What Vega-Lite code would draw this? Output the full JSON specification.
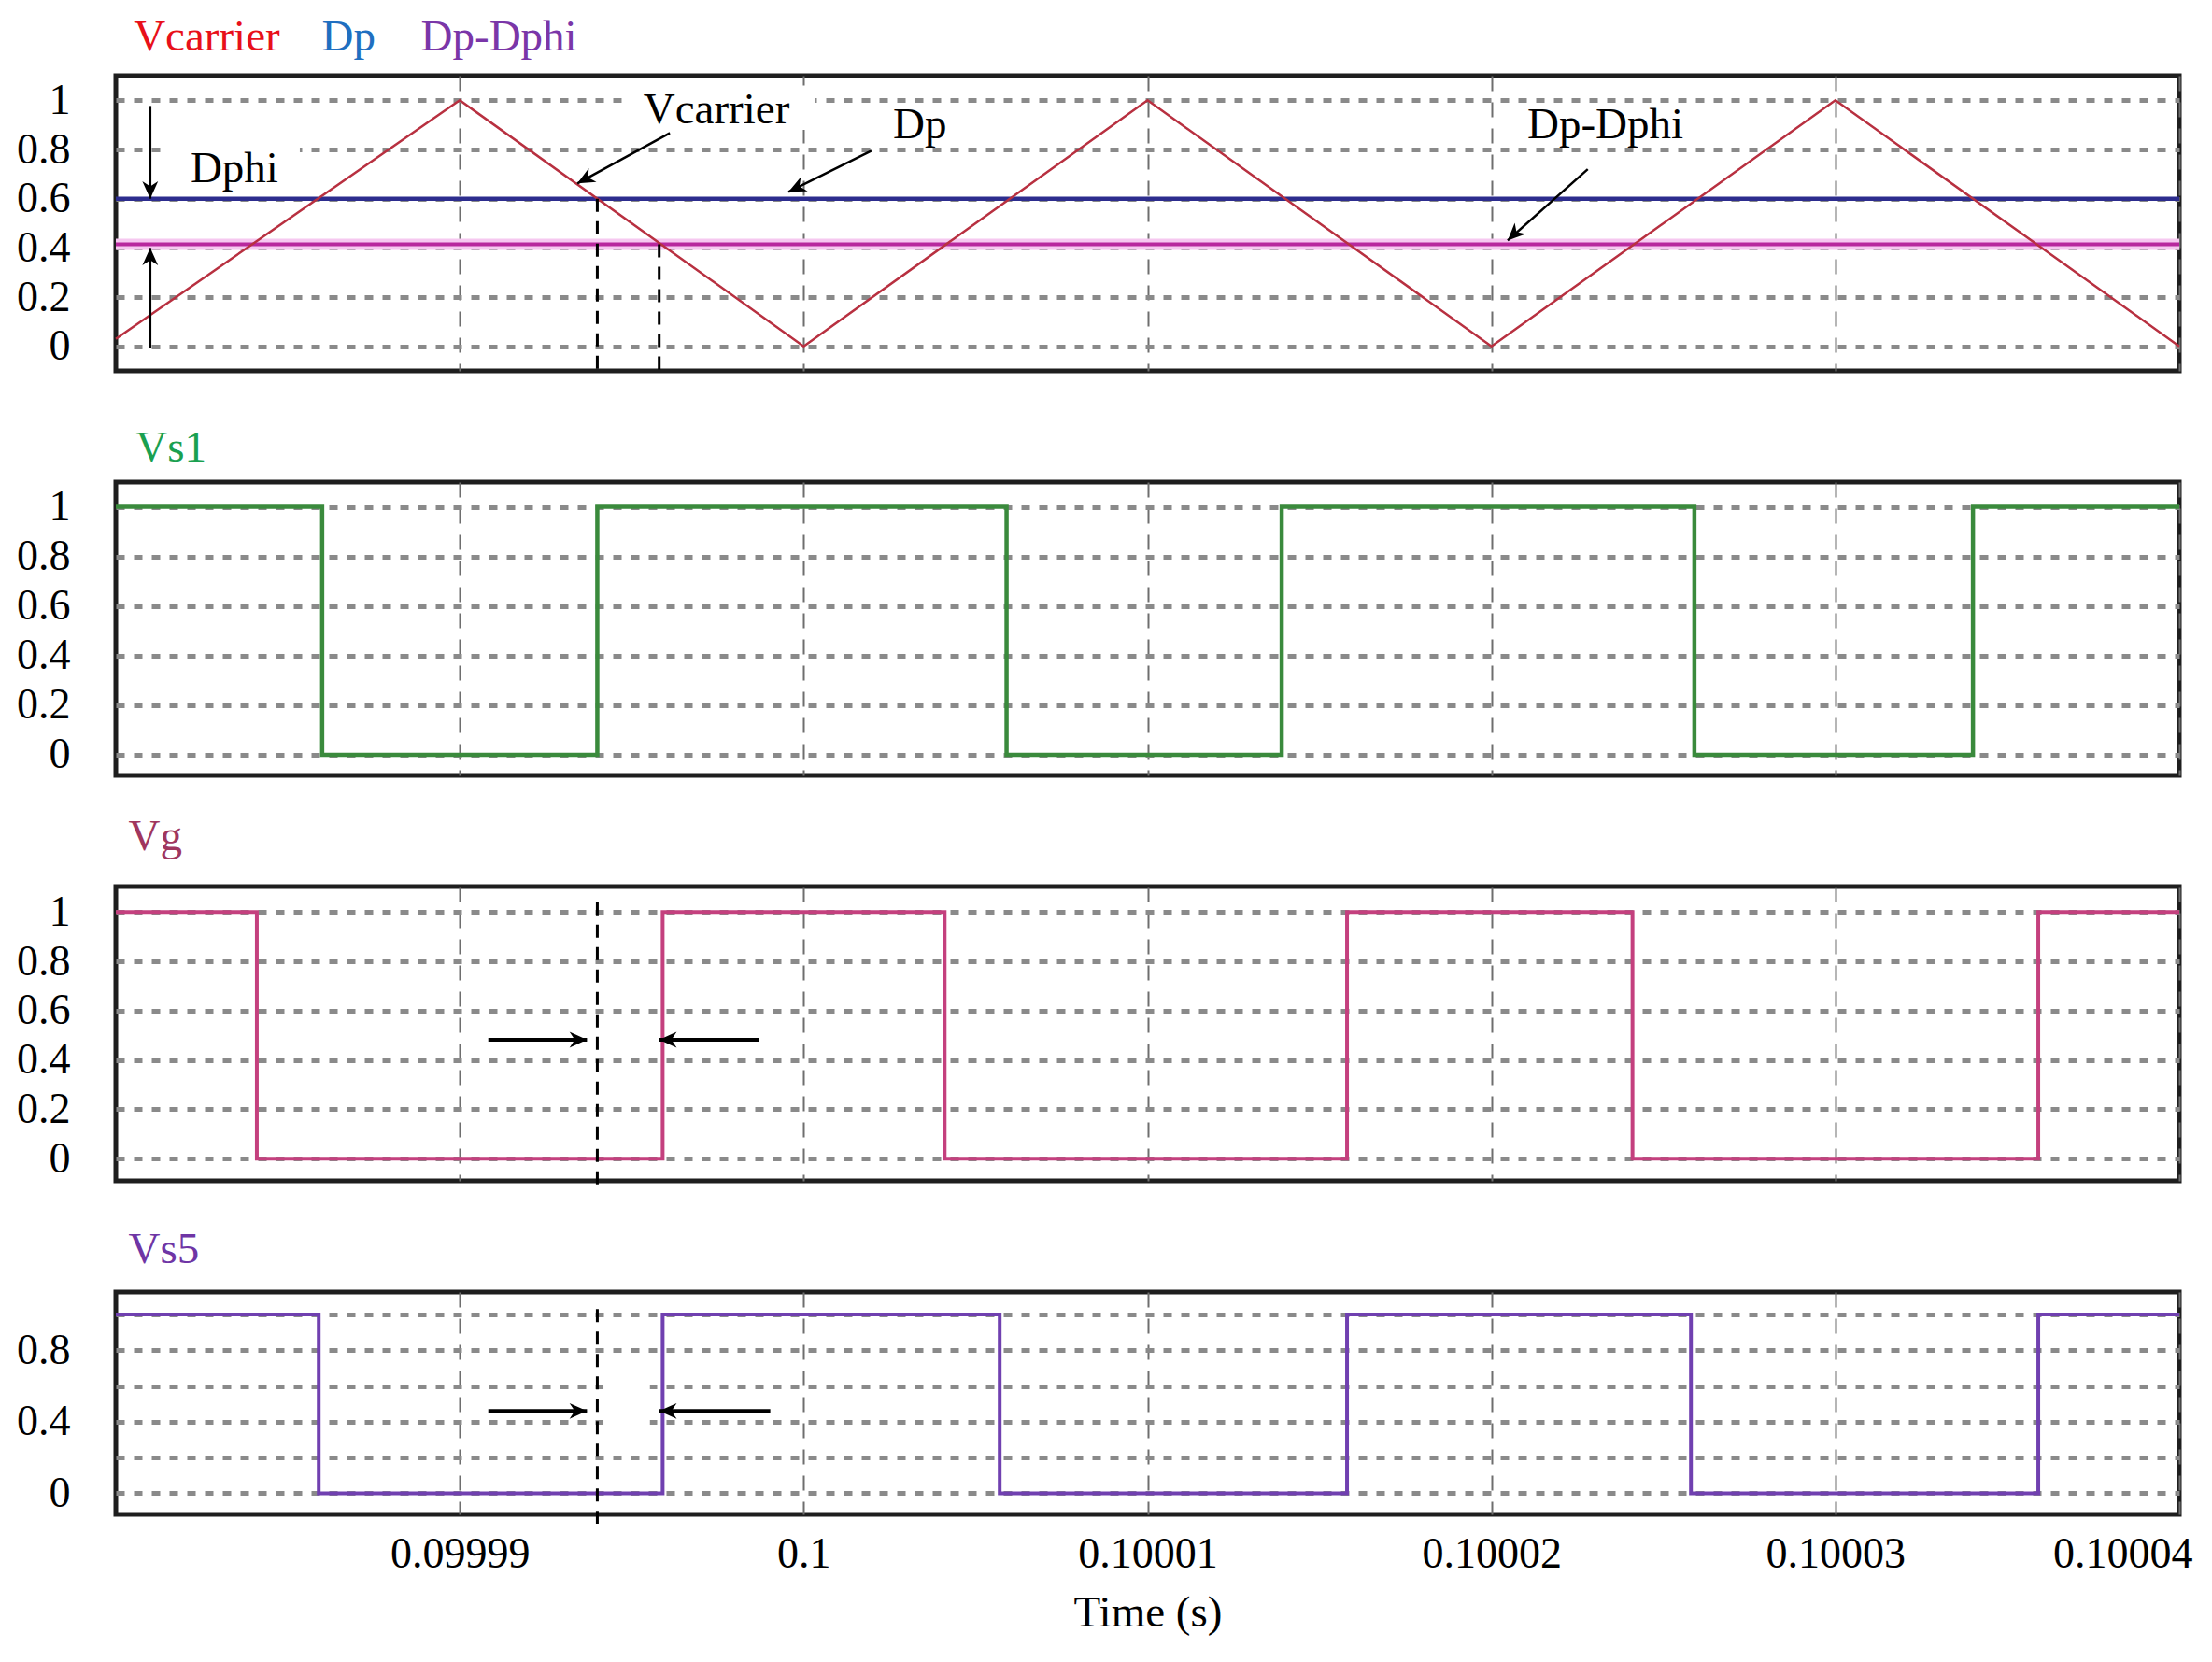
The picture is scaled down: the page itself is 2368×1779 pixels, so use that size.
{
  "$schema": "https://vega.github.io/schema/vega-lite/v6.json",
  "background": "white",
  "padding": {"left": 15, "top": 13, "right": 0, "bottom": 0},
  "bounds": "flush",
  "spacing": 119,
  "config": {
    "font": "Liberation Serif",
    "view": {"stroke": "#1e1e1e", "strokeWidth": 5},
    "axis": {"domain": false, "ticks": false, "labelFont": "Liberation Serif", "labelFontSize": 46, "labelColor": "#000000", "titleFont": "Liberation Serif", "titleFontSize": 47, "titleFontWeight": "normal", "titleColor": "#000000", "gridOpacity": 1},
    "axisY": {"gridColor": "#8a8a8a", "gridDash": [9, 10], "gridWidth": 5, "labelPadding": 49},
    "axisX": {"gridColor": "#6e6e6e", "gridDash": [16, 12], "gridWidth": 2, "labelPadding": 20, "titlePadding": 17}
  },
  "datasets": {
    "carrier": [
      {"t": 0.09998, "v": 0.03}, {"t": 0.09999, "v": 1}, {"t": 0.1, "v": 0}, {"t": 0.10001, "v": 1},
      {"t": 0.10002, "v": 0}, {"t": 0.10003, "v": 1}, {"t": 0.10004, "v": 0}
    ],
    "dp": [{"t": 0.09998, "v": 0.6}, {"t": 0.10004, "v": 0.6}],
    "dpdphi": [{"t": 0.09998, "v": 0.415}, {"t": 0.10004, "v": 0.415}],
    "boxes1": [
      {"t": 0.09998147, "t2": 0.09998535, "v": 0.83, "v2": 0.62},
      {"t": 0.09999472, "t2": 0.10000034, "v": 1.06, "v2": 0.88}
    ],
    "markers1": [
      {"t": 0.099994, "v": 0.6, "v2": -0.1},
      {"t": 0.0999958, "v": 0.415, "v2": -0.1}
    ],
    "arrows1": [
      {"name": "Vcarrier", "t": 0.09999342, "v": 0.662, "t2": 0.09999611, "v2": 0.867},
      {"name": "Dp", "t": 0.09999956, "v": 0.628, "t2": 0.10000197, "v2": 0.795},
      {"name": "Dp-Dphi", "t": 0.10002047, "v": 0.43, "t2": 0.1000228, "v2": 0.72},
      {"name": "Dphi-down", "t": 0.099981, "v": 0.6, "t2": 0.099981, "v2": 0.977},
      {"name": "Dphi-up", "t": 0.099981, "v": 0.40, "t2": 0.099981, "v2": -0.008}
    ],
    "annot1": [
      {"t": 0.09999534, "v": 0.906, "label": "Vcarrier"},
      {"t": 0.1000026, "v": 0.844, "label": "Dp"},
      {"t": 0.10002104, "v": 0.844, "label": "Dp-Dphi"},
      {"t": 0.09998217, "v": 0.666, "label": "Dphi"}
    ],
    "titles1": [
      {"t": 0.09998052, "v": 1.202, "label": "Vcarrier"},
      {"t": 0.09998599, "v": 1.202, "label": "Dp"},
      {"t": 0.09998887, "v": 1.202, "label": "Dp-Dphi"}
    ],
    "vs1": [
      {"t": 0.09998, "v": 1}, {"t": 0.099986, "v": 0}, {"t": 0.099994, "v": 1}, {"t": 0.1000059, "v": 0},
      {"t": 0.1000139, "v": 1}, {"t": 0.1000259, "v": 0}, {"t": 0.100034, "v": 1}, {"t": 0.10004, "v": 1}
    ],
    "vg": [
      {"t": 0.09998, "v": 1}, {"t": 0.0999841, "v": 0}, {"t": 0.0999959, "v": 1}, {"t": 0.1000041, "v": 0},
      {"t": 0.1000158, "v": 1}, {"t": 0.1000241, "v": 0}, {"t": 0.1000359, "v": 1}, {"t": 0.10004, "v": 1}
    ],
    "vs5": [
      {"t": 0.09998, "v": 1}, {"t": 0.0999859, "v": 0}, {"t": 0.0999959, "v": 1}, {"t": 0.1000057, "v": 0},
      {"t": 0.1000158, "v": 1}, {"t": 0.1000258, "v": 0}, {"t": 0.1000359, "v": 1}, {"t": 0.10004, "v": 1}
    ],
    "boxes3": [{"t": 0.09999415, "t2": 0.09999553, "v": 0.58, "v2": 0.43}],
    "markers3": [{"t": 0.099994, "v": 1.04, "v2": -0.12}],
    "arrows3": [
      {"name": "right", "t": 0.0999937, "v": 0.482, "t2": 0.09999083, "v2": 0.482},
      {"name": "left", "t": 0.0999958, "v": 0.482, "t2": 0.0999987, "v2": 0.482}
    ],
    "boxes4": [{"t": 0.09999418, "t2": 0.09999553, "v": 0.61, "v2": 0.36}],
    "markers4": [{"t": 0.099994, "v": 1.03, "v2": -0.17}],
    "arrows4": [
      {"name": "right", "t": 0.0999937, "v": 0.46, "t2": 0.09999083, "v2": 0.46},
      {"name": "left", "t": 0.0999958, "v": 0.46, "t2": 0.09999903, "v2": 0.46}
    ],
    "title2": [{"t": 0.09998058, "v": 1.182, "label": "Vs1"}],
    "title3": [{"t": 0.09998037, "v": 1.252, "label": "Vg"}],
    "title4": [{"t": 0.09998037, "v": 1.288, "label": "Vs5"}]
  },
  "vconcat": [
    {
      "width": 2209, "height": 316,
      "encoding": {
        "x": {"field": "t", "type": "quantitative", "scale": {"domain": [0.09998, 0.10004], "nice": false, "zero": false},
              "axis": {"values": [0.09999, 0.1, 0.10001, 0.10002, 0.10003, 0.10004], "labels": false, "title": null}},
        "y": {"field": "v", "type": "quantitative", "scale": {"domain": [-0.1, 1.1], "nice": false, "zero": false},
              "axis": {"values": [0, 0.2, 0.4, 0.6, 0.8, 1], "format": "~g", "title": null}}
      },
      "layer": [
        {"data": {"name": "boxes1"}, "mark": {"type": "rect", "fill": "white"}, "encoding": {"x2": {"field": "t2"}, "y2": {"field": "v2"}}},
        {"data": {"name": "dpdphi"}, "mark": {"type": "line", "color": "#f6c8f0", "strokeWidth": 12}, "encoding": {}},
        {"data": {"name": "dpdphi"}, "mark": {"type": "line", "color": "#b8289e", "strokeWidth": 4}, "encoding": {}},
        {"data": {"name": "dp"}, "mark": {"type": "line", "color": "#2d2d8e", "strokeWidth": 4.5}, "encoding": {}},
        {"data": {"name": "carrier"}, "mark": {"type": "line", "color": "#b83040", "strokeWidth": 2.5}, "encoding": {}},
        {"data": {"name": "markers1"}, "mark": {"type": "rule", "color": "#000000", "strokeWidth": 3, "strokeDash": [14, 10]}, "encoding": {"y2": {"field": "v2"}}},
        {"data": {"name": "arrows1"}, "mark": {"type": "rule", "color": "#000000", "strokeWidth": 2.5}, "encoding": {"x2": {"field": "t2"}, "y2": {"field": "v2"}}},
        {"data": {"name": "arrows1"}, "transform": [{"filter": "datum.name == 'Vcarrier'"}], "mark": {"type": "point", "shape": "M 0 0 L -1 -0.45 L -0.7 0 L -1 0.45 Z", "filled": true, "color": "#000000", "opacity": 1, "size": 1400, "angle": 151}, "encoding": {}},
        {"data": {"name": "arrows1"}, "transform": [{"filter": "datum.name == 'Dp'"}], "mark": {"type": "point", "shape": "M 0 0 L -1 -0.45 L -0.7 0 L -1 0.45 Z", "filled": true, "color": "#000000", "opacity": 1, "size": 1400, "angle": 154}, "encoding": {}},
        {"data": {"name": "arrows1"}, "transform": [{"filter": "datum.name == 'Dp-Dphi'"}], "mark": {"type": "point", "shape": "M 0 0 L -1 -0.45 L -0.7 0 L -1 0.45 Z", "filled": true, "color": "#000000", "opacity": 1, "size": 1400, "angle": 136}, "encoding": {}},
        {"data": {"name": "arrows1"}, "transform": [{"filter": "datum.name == 'Dphi-down'"}], "mark": {"type": "point", "shape": "M 0 0 L -1 -0.45 L -0.7 0 L -1 0.45 Z", "filled": true, "color": "#000000", "opacity": 1, "size": 1400, "angle": 90}, "encoding": {}},
        {"data": {"name": "arrows1"}, "transform": [{"filter": "datum.name == 'Dphi-up'"}], "mark": {"type": "point", "shape": "M 0 0 L -1 -0.45 L -0.7 0 L -1 0.45 Z", "filled": true, "color": "#000000", "opacity": 1, "size": 1400, "angle": 270}, "encoding": {}},
        {"data": {"name": "annot1"}, "mark": {"type": "text", "align": "left", "baseline": "alphabetic", "fontSize": 47, "font": "Liberation Serif", "color": "#000000"}, "encoding": {"text": {"field": "label"}}},
        {"data": {"name": "titles1"}, "mark": {"type": "text", "align": "left", "baseline": "alphabetic", "fontSize": 47, "font": "Liberation Serif"},
         "encoding": {"text": {"field": "label"}, "color": {"field": "label", "type": "nominal", "scale": {"domain": ["Vcarrier", "Dp", "Dp-Dphi"], "range": ["#e8101a", "#1f6fc0", "#7a36a8"]}, "legend": null}}}
      ]
    },
    {
      "width": 2209, "height": 314,
      "encoding": {
        "x": {"field": "t", "type": "quantitative", "scale": {"domain": [0.09998, 0.10004], "nice": false, "zero": false},
              "axis": {"values": [0.09999, 0.1, 0.10001, 0.10002, 0.10003, 0.10004], "labels": false, "title": null}},
        "y": {"field": "v", "type": "quantitative", "scale": {"domain": [-0.083, 1.1], "nice": false, "zero": false},
              "axis": {"values": [0, 0.2, 0.4, 0.6, 0.8, 1], "format": "~g", "title": null}}
      },
      "layer": [
        {"data": {"name": "vs1"}, "mark": {"type": "line", "interpolate": "step-after", "color": "#3a8a3c", "strokeWidth": 4.5}, "encoding": {}},
        {"data": {"name": "title2"}, "mark": {"type": "text", "align": "left", "baseline": "alphabetic", "fontSize": 47, "font": "Liberation Serif", "color": "#1aa050"}, "encoding": {"text": {"field": "label"}}}
      ]
    },
    {
      "width": 2209, "height": 315,
      "encoding": {
        "x": {"field": "t", "type": "quantitative", "scale": {"domain": [0.09998, 0.10004], "nice": false, "zero": false},
              "axis": {"values": [0.09999, 0.1, 0.10001, 0.10002, 0.10003, 0.10004], "labels": false, "title": null}},
        "y": {"field": "v", "type": "quantitative", "scale": {"domain": [-0.09, 1.103], "nice": false, "zero": false},
              "axis": {"values": [0, 0.2, 0.4, 0.6, 0.8, 1], "format": "~g", "title": null}}
      },
      "layer": [
        {"data": {"name": "boxes3"}, "mark": {"type": "rect", "fill": "white"}, "encoding": {"x2": {"field": "t2"}, "y2": {"field": "v2"}}},
        {"data": {"name": "vg"}, "mark": {"type": "line", "interpolate": "step-after", "color": "#c4407e", "strokeWidth": 4}, "encoding": {}},
        {"data": {"name": "markers3"}, "mark": {"type": "rule", "color": "#000000", "strokeWidth": 3, "strokeDash": [14, 10]}, "encoding": {"y2": {"field": "v2"}}},
        {"data": {"name": "arrows3"}, "mark": {"type": "rule", "color": "#000000", "strokeWidth": 4}, "encoding": {"x2": {"field": "t2"}, "y2": {"field": "v2"}}},
        {"data": {"name": "arrows3"}, "transform": [{"filter": "datum.name == 'right'"}], "mark": {"type": "point", "shape": "M 0 0 L -1 -0.45 L -0.7 0 L -1 0.45 Z", "filled": true, "color": "#000000", "opacity": 1, "size": 1400, "angle": 0}, "encoding": {}},
        {"data": {"name": "arrows3"}, "transform": [{"filter": "datum.name == 'left'"}], "mark": {"type": "point", "shape": "M 0 0 L -1 -0.45 L -0.7 0 L -1 0.45 Z", "filled": true, "color": "#000000", "opacity": 1, "size": 1400, "angle": 180}, "encoding": {}},
        {"data": {"name": "title3"}, "mark": {"type": "text", "align": "left", "baseline": "alphabetic", "fontSize": 47, "font": "Liberation Serif", "color": "#a0365e"}, "encoding": {"text": {"field": "label"}}}
      ]
    },
    {
      "width": 2209, "height": 238,
      "encoding": {
        "x": {"field": "t", "type": "quantitative", "scale": {"domain": [0.09998, 0.10004], "nice": false, "zero": false},
              "axis": {"values": [0.09999, 0.1, 0.10001, 0.10002, 0.10003, 0.10004], "format": ".5~f", "labelFlush": 5, "labelFlushOffset": 14, "title": "Time (s)"}},
        "y": {"field": "v", "type": "quantitative", "scale": {"domain": [-0.118, 1.125], "nice": false, "zero": false},
              "axis": {"values": [0, 0.2, 0.4, 0.6, 0.8, 1], "format": "~g", "title": null,
                       "labelExpr": "(abs(datum.value) < 0.001 || abs(datum.value - 0.4) < 0.001 || abs(datum.value - 0.8) < 0.001) ? datum.label : ''"}}
      },
      "layer": [
        {"data": {"name": "boxes4"}, "mark": {"type": "rect", "fill": "white"}, "encoding": {"x2": {"field": "t2"}, "y2": {"field": "v2"}}},
        {"data": {"name": "vs5"}, "mark": {"type": "line", "interpolate": "step-after", "color": "#7040b0", "strokeWidth": 4}, "encoding": {}},
        {"data": {"name": "markers4"}, "mark": {"type": "rule", "color": "#000000", "strokeWidth": 3, "strokeDash": [14, 10]}, "encoding": {"y2": {"field": "v2"}}},
        {"data": {"name": "arrows4"}, "mark": {"type": "rule", "color": "#000000", "strokeWidth": 4}, "encoding": {"x2": {"field": "t2"}, "y2": {"field": "v2"}}},
        {"data": {"name": "arrows4"}, "transform": [{"filter": "datum.name == 'right'"}], "mark": {"type": "point", "shape": "M 0 0 L -1 -0.45 L -0.7 0 L -1 0.45 Z", "filled": true, "color": "#000000", "opacity": 1, "size": 1400, "angle": 0}, "encoding": {}},
        {"data": {"name": "arrows4"}, "transform": [{"filter": "datum.name == 'left'"}], "mark": {"type": "point", "shape": "M 0 0 L -1 -0.45 L -0.7 0 L -1 0.45 Z", "filled": true, "color": "#000000", "opacity": 1, "size": 1400, "angle": 180}, "encoding": {}},
        {"data": {"name": "title4"}, "mark": {"type": "text", "align": "left", "baseline": "alphabetic", "fontSize": 47, "font": "Liberation Serif", "color": "#6f35a5"}, "encoding": {"text": {"field": "label"}}}
      ]
    }
  ]
}
